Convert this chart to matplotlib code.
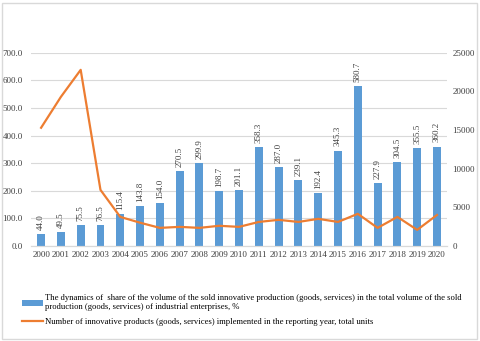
import matplotlib.pyplot as plt
import matplotlib.patches as mpatches

plt.rcParams['font.family'] = ['Liberation Serif', 'DejaVu Serif']
plt.rcParams['font.size'] = 6.5

years = [str(y) for y in range(2000, 2021)]
share = [44.0, 49.5, 75.5, 76.5, 115.4, 143.8, 154.0, 270.5, 299.9, 198.7, 201.1,
         358.3, 287.0, 239.1, 192.4, 345.3, 580.7, 227.9, 304.5, 355.5, 360.2]
products = [15300, 19300, 22800, 7250, 3750, 3000, 2330, 2460, 2330, 2600, 2460,
            3100, 3370, 3100, 3500, 3100, 4150, 2330, 3750, 2070, 4000]

label_bar = ("The dynamics of  share of the volume of the sold innovative production (goods, services) in the total volume of the sold\n"
             "production (goods, services) of industrial enterprises, %")
label_line = "Number of innovative products (goods, services) implemented in the reporting year, total units"

fig = plt.figure(figsize=(4.8, 3.41), dpi=100)
ax = fig.add_axes([0.065, 0.279, 0.866, 0.566])
ax2 = ax.twinx()

x = range(len(years))
bars = ax.bar(x, share, width=0.4, color='#5B9BD5', zorder=2, label=label_bar)
ax.bar_label(bars, fmt='%.1f', rotation=90, padding=3, color='#404040')
ax2.plot(x, products, color='#ED7D31', lw=1.6, label=label_line)

ax.set_ylim(0, 700)
ax.set_yticks(range(0, 701, 100))
ax.yaxis.set_major_formatter(plt.FormatStrFormatter('%.1f'))
ax2.set_ylim(0, 25000)
ax2.set_yticks(range(0, 25001, 5000))
ax.set_xlim(-0.5, len(years) - 0.5)
ax.set_xticks(list(x))
ax.set_xticklabels(years)

ax.grid(axis='y', color='#D9D9D9', lw=0.8, zorder=0)
ax.set_axisbelow(True)
for a in (ax, ax2):
    for s in ('top', 'left', 'right'):
        a.spines[s].set_visible(False)
    a.spines['bottom'].set_color('#D9D9D9')
    a.tick_params(length=0, colors='#404040', pad=4)
ax.tick_params(axis='y', pad=6)

h1, l1 = ax.get_legend_handles_labels()
h2, l2 = ax2.get_legend_handles_labels()
fig.legend(h1 + h2, l1 + l2, loc='upper left', bbox_to_anchor=(0.03, 0.16),
           bbox_transform=fig.transFigure, frameon=False, handlelength=2.4,
           handletextpad=0.3, labelspacing=0.75, fontsize=6.2)

fig.patches.append(mpatches.Rectangle((0.004, 0.006), 0.99, 0.985, transform=fig.transFigure,
                                      fill=False, edgecolor='#D9D9D9', lw=1))

plt.savefig('out.png', dpi=100)
